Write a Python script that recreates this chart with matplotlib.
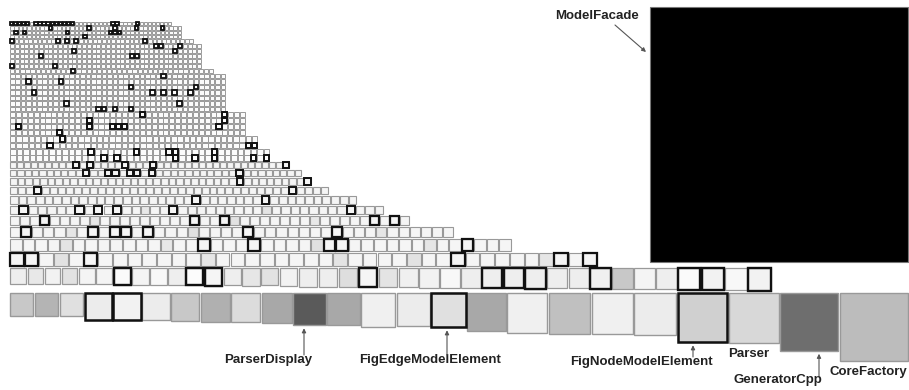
import matplotlib
matplotlib.use("Agg")
import matplotlib.pyplot as plt
from matplotlib.patches import Rectangle

# ---------------- data ----------------
# rows of small classes: square side, number of classes, highlighted classes
row_sizes = [3.25, 3.5, 3.5, 3.5, 3.8,
             4.0, 4.0, 4.0, 4.0, 4.0, 4.3,
             4.6, 4.6, 4.6, 4.6, 4.6, 4.6, 4.6,
             5.1, 5.1, 5.1, 5.1, 5.4, 5.4, 5.7, 5.7,
             6.0, 6.3, 6.55, 6.98, 7.68, 8.35, 9.0, 10.1, 11.55, 13.7]
row_counts = [40] * 36
row_highlights = [
    [0, 1, 2, 3, 4, 6, 7, 8, 9, 10, 11, 12, 13, 14, 15, 25, 26, 31],
    [9, 18, 24, 29, 35],
    [1, 3, 13, 23, 24, 25],
    [17],
    [0, 10, 12, 14, 29],
    [30, 31, 35],
    [13, 34],
    [6, 25, 26],
    [],
    [0, 9],
    [12],
    [28],
    [3, 9],
    [22, 34],
    [4, 26, 28, 30, 33],
    [],
    [10, 31],
    [16, 17, 19, 22],
    [22, 36],
    [13, 36],
    [1, 13, 17, 18, 19, 35],
    [8],
    [8],
    [6, 38, 39],
    [12, 19, 24, 25, 31],
    [14, 16, 25, 28, 31, 37, 39],
    [9, 11, 16, 20, 39],
    [10, 13, 14, 16, 17, 19, 31],
    [30, 39],
    [3, 35],
    [21, 29],
    [1, 7, 9, 11, 17, 36],
    [3, 18, 21, 36, 38],
    [1, 7, 9, 10, 12, 21, 29],
    [15, 19, 25, 26, 36],
    [0, 1, 5, 30, 37, 39],
]
# a few light-gray classes in the lower small rows: row -> {class: gray}
row_shades = {
    31: {14: 232, 27: 228},
    32: {8: 230, 22: 226, 30: 232},
    33: {5: 230, 16: 226, 33: 230},
    34: {4: 228, 12: 232, 24: 224, 33: 230},
    35: {3: 226, 13: 230, 22: 228, 27: 226, 36: 230},
}

# second-to-last row
rowk_sizes = [16, 15.5, 15.5, 15.5, 16, 16, 17, 16.5, 16.5, 16.5,
              17, 17.5, 17, 17.5, 17, 17.5, 18.5, 18.5, 18.5, 18.5,
              18.5, 19, 19.5, 19.5, 19.5, 20, 20, 20.5, 20, 20,
              20.5, 20.5, 20.5, 20.5, 22, 22, 21.5, 23]
rowk_grays = [238, 232, 242, 226, 244, 244, 250, 244, 248, 238,
              252, 245, 238, 230, 226, 242, 238, 238, 222, 245,
              228, 240, 242, 248, 238, 238, 238, 238, 238, 238,
              240, 200, 244, 238, 250, 242, 248, 242]
rowk_highlights = [6, 10, 11, 19, 25, 26, 27, 30, 34, 35, 37]

# last row (largest classes)
rowl_sizes = [23, 23.5, 23.5, 27, 27.5, 27.5, 28, 29, 29, 30,
              32.5, 32.5, 34, 33, 34.5, 38.5, 40, 41.5, 41, 42,
              49.5, 50, 58, 68.5]
rowl_grays = [200, 180, 224, 236, 242, 236, 200, 176, 220, 168,
              90, 168, 240, 236, 224, 168, 240, 192, 240, 236,
              208, 216, 110, 188]
rowl_highlights = [3, 4, 14, 20]

# the single huge class
big_name = "ModelFacade"
big_size = 258

# labelled classes in the last row
label_names = ["ParserDisplay", "FigEdgeModelElement", "FigNodeModelElement",
               "Parser", "GeneratorCpp", "CoreFactory"]
label_index = [10, 14, 20, 21, 22, 23]

# ---------------- drawing ----------------
W, H = 909, 390
fig = plt.figure(figsize=(W / 100, H / 100), dpi=100)
ax = fig.add_axes([0, 0, 1, 1])
ax.set_xlim(0, W)
ax.set_ylim(H, 0)
ax.axis("off")

EDGE = "#999999"
HL = "#111111"


def draw_square(x, y, s, fill, hl, lw_norm, lw_hl):
    ax.add_patch(Rectangle((x, y), s, s, facecolor=fill, edgecolor=EDGE,
                           linewidth=lw_norm, zorder=2))
    if hl:
        ax.add_patch(Rectangle((x, y), s, s, facecolor="none", edgecolor=HL,
                               linewidth=lw_hl, zorder=3))


x0 = 10.0
y = 22.0
for r, (s, n, hls) in enumerate(zip(row_sizes, row_counts, row_highlights)):
    small = s < 5.85
    gap = 0.8 if small else 1.0
    vgap = 0.9 if small else 2.0
    shades = row_shades.get(r, {})
    for i in range(n):
        x = x0 + i * (s + gap)
        if small:
            fill = "#fbfbfb"
        else:
            g = shades.get(i, 245)
            fill = (g / 255, g / 255, g / 255)
        lw_h = 1.3 if s < 5 else (1.4 if s < 9 else 1.6)
        draw_square(x, y, s, fill, i in hls, 0.7 if small else 0.8, lw_h)
    y += s + vgap

# row k
gap = 1.5
x = x0
for i, s in enumerate(rowk_sizes):
    g = rowk_grays[i] / 255
    draw_square(x, y, s, (g, g, g), i in rowk_highlights, 0.9, 1.7)
    x += s + gap
y += max(rowk_sizes) + 1.5

# row l
x = x0
rowl_pos = []
for i, s in enumerate(rowl_sizes):
    g = rowl_grays[i] / 255
    draw_square(x, y, s, (g, g, g), i in rowl_highlights, 1.0, 1.8)
    rowl_pos.append((x, y, s))
    x += s + gap
right_edge = x - gap

# huge class at top right
bx = right_edge - big_size
ax.add_patch(Rectangle((bx, 7), big_size, big_size - 3, facecolor="black",
                       edgecolor="#777777", linewidth=0.8, zorder=2))

font = dict(family=["Liberation Sans", "DejaVu Sans"], fontweight="bold",
            fontsize=9.5, color="#222222", ha="center", va="center")
arrow = dict(arrowstyle="-|>", color="#555555", lw=0.8, mutation_scale=6,
             shrinkA=0, shrinkB=0)

ax.text(597, 16, big_name, **font)
ax.annotate("", xy=(bx - 4, 52), xytext=(615, 25), arrowprops=arrow)

# label placement: text centre (x, y) and arrow (x, y tail) or None
label_text_xy = [(268, 360), (430, 360), (641, 362), (749, 354), (778, 380), (868, 372)]
label_arrow = [(304, 355), (447, 355), (693, 357), None, (819, 376), None]
for name, idx, txy, arr in zip(label_names, label_index, label_text_xy, label_arrow):
    ax.text(txy[0], txy[1], name, **font)
    if arr is not None:
        sx, sy, ss = rowl_pos[idx]
        ax.annotate("", xy=(arr[0], sy + ss + 3), xytext=arr, arrowprops=arrow)

fig.savefig("out.png", dpi=100, facecolor="white")
